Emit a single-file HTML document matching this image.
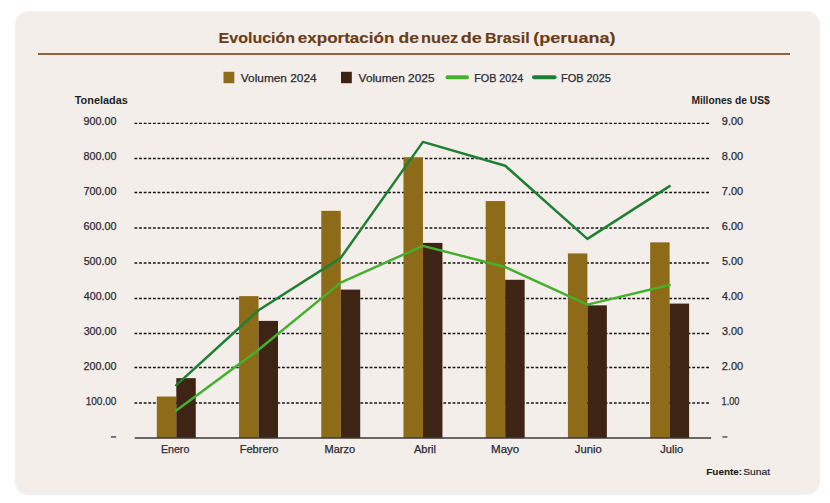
<!DOCTYPE html>
<html><head><meta charset="utf-8"><style>
html,body{margin:0;padding:0;background:#ffffff;width:830px;height:503px;overflow:hidden}
.card{position:absolute;left:14.7px;top:11.3px;width:804.9px;height:483.3px;background:#f3eee9;border-radius:14px}
.rule{position:absolute;left:38px;top:52.95px;width:752px;height:1.7px;background:#8f6242}
svg{position:absolute;left:0;top:0}
text{font-family:"Liberation Sans",sans-serif}
</style></head><body>
<div class="card"></div>
<div class="rule"></div>
<svg width="830" height="503" viewBox="0 0 830 503">
<line x1="134.5" y1="403.00" x2="709.6" y2="403.00" stroke="#141414" stroke-width="1.35" stroke-dasharray="2.8 1.81"/>
<line x1="134.5" y1="367.50" x2="709.6" y2="367.50" stroke="#141414" stroke-width="1.35" stroke-dasharray="2.8 1.81"/>
<line x1="134.5" y1="333.50" x2="709.6" y2="333.50" stroke="#141414" stroke-width="1.35" stroke-dasharray="2.8 1.81"/>
<line x1="134.5" y1="298.50" x2="709.6" y2="298.50" stroke="#141414" stroke-width="1.35" stroke-dasharray="2.8 1.81"/>
<line x1="134.5" y1="263.00" x2="709.6" y2="263.00" stroke="#141414" stroke-width="1.35" stroke-dasharray="2.8 1.81"/>
<line x1="134.5" y1="228.00" x2="709.6" y2="228.00" stroke="#141414" stroke-width="1.35" stroke-dasharray="2.8 1.81"/>
<line x1="134.5" y1="192.50" x2="709.6" y2="192.50" stroke="#141414" stroke-width="1.35" stroke-dasharray="2.8 1.81"/>
<line x1="134.5" y1="158.50" x2="709.6" y2="158.50" stroke="#141414" stroke-width="1.35" stroke-dasharray="2.8 1.81"/>
<line x1="134.5" y1="123.40" x2="709.6" y2="123.40" stroke="#141414" stroke-width="1.35" stroke-dasharray="2.8 1.81"/>
<rect x="156.83" y="396.52" width="19.47" height="41.48" fill="#8d6b18"/>
<rect x="176.30" y="378.15" width="19.47" height="59.85" fill="#3e2415"/>
<rect x="239.05" y="296.11" width="19.47" height="141.89" fill="#8d6b18"/>
<rect x="258.52" y="320.89" width="19.47" height="117.11" fill="#3e2415"/>
<rect x="321.27" y="210.85" width="19.47" height="227.15" fill="#8d6b18"/>
<rect x="340.74" y="289.60" width="19.47" height="148.40" fill="#3e2415"/>
<rect x="403.49" y="157.30" width="19.47" height="280.70" fill="#8d6b18"/>
<rect x="422.96" y="242.91" width="19.47" height="195.09" fill="#3e2415"/>
<rect x="485.71" y="201.05" width="19.47" height="236.95" fill="#8d6b18"/>
<rect x="505.18" y="279.80" width="19.47" height="158.20" fill="#3e2415"/>
<rect x="567.93" y="253.41" width="19.47" height="184.59" fill="#8d6b18"/>
<rect x="587.40" y="305.35" width="19.47" height="132.65" fill="#3e2415"/>
<rect x="650.15" y="242.35" width="19.47" height="195.65" fill="#8d6b18"/>
<rect x="669.62" y="303.60" width="19.47" height="134.40" fill="#3e2415"/>
<line x1="134.7" y1="438.0" x2="711.1" y2="438.0" stroke="#3a3a3a" stroke-width="1.6"/>
<polyline points="176.30,410.49 258.52,349.80 340.74,282.60 422.96,245.85 505.18,267.02 587.40,304.65 669.62,285.05" fill="none" stroke="#45b02c" stroke-width="2.5" stroke-linejoin="round" stroke-linecap="round"/>
<polyline points="176.30,385.15 258.52,310.25 340.74,257.89 422.96,141.90 505.18,165.70 587.40,238.85 669.62,186.10" fill="none" stroke="#1f7f33" stroke-width="2.5" stroke-linejoin="round" stroke-linecap="round"/>
<rect x="223.5" y="71.8" width="10.8" height="11.4" fill="#8d6b18"/>
<rect x="341" y="71.8" width="10.8" height="11.4" fill="#3e2415"/>
<line x1="447.5" y1="77.3" x2="467" y2="77.3" stroke="#45b02c" stroke-width="4" stroke-linecap="round"/>
<line x1="534" y1="77.3" x2="554.6" y2="77.3" stroke="#1f7f33" stroke-width="4" stroke-linecap="round"/>
<rect x="110.9" y="436.2" width="5.3" height="1.5" fill="#55555e"/>
<rect x="722.4" y="436.2" width="5.0" height="1.5" fill="#55555e"/>
<text x="218.54" y="43.00" font-size="15.2" font-weight="bold" fill="#6b3d17" stroke="#6b3d17" stroke-width="0.15" textLength="76.63" lengthAdjust="spacingAndGlyphs">Evolución</text>
<text x="297.84" y="43.00" font-size="15.2" font-weight="bold" fill="#6b3d17" stroke="#6b3d17" stroke-width="0.15" textLength="96.51" lengthAdjust="spacingAndGlyphs">exportación</text>
<text x="398.52" y="43.00" font-size="15.2" font-weight="bold" fill="#6b3d17" stroke="#6b3d17" stroke-width="0.15" textLength="20.43" lengthAdjust="spacingAndGlyphs">de</text>
<text x="421.06" y="43.00" font-size="15.2" font-weight="bold" fill="#6b3d17" stroke="#6b3d17" stroke-width="0.15" textLength="37.26" lengthAdjust="spacingAndGlyphs">nuez</text>
<text x="460.81" y="43.00" font-size="15.2" font-weight="bold" fill="#6b3d17" stroke="#6b3d17" stroke-width="0.15" textLength="21.07" lengthAdjust="spacingAndGlyphs">de</text>
<text x="484.94" y="43.00" font-size="15.2" font-weight="bold" fill="#6b3d17" stroke="#6b3d17" stroke-width="0.15" textLength="44.68" lengthAdjust="spacingAndGlyphs">Brasil</text>
<text x="533.26" y="43.00" font-size="15.2" font-weight="bold" fill="#6b3d17" stroke="#6b3d17" stroke-width="0.15" textLength="82.28" lengthAdjust="spacingAndGlyphs">(peruana)</text>
<text x="240.83" y="81.70" font-size="11.2" font-weight="normal" fill="#2c2c36" stroke="#2c2c36" stroke-width="0.25" textLength="75.75" lengthAdjust="spacingAndGlyphs">Volumen 2024</text>
<text x="358.63" y="81.70" font-size="11.2" font-weight="normal" fill="#2c2c36" stroke="#2c2c36" stroke-width="0.25" textLength="75.88" lengthAdjust="spacingAndGlyphs">Volumen 2025</text>
<text x="474.18" y="81.70" font-size="11.2" font-weight="normal" fill="#2c2c36" stroke="#2c2c36" stroke-width="0.25" textLength="49.16" lengthAdjust="spacingAndGlyphs">FOB 2024</text>
<text x="560.97" y="81.70" font-size="11.2" font-weight="normal" fill="#2c2c36" stroke="#2c2c36" stroke-width="0.25" textLength="49.90" lengthAdjust="spacingAndGlyphs">FOB 2025</text>
<text x="74.77" y="103.90" font-size="10.3" font-weight="bold" fill="#1e1e26" textLength="52.98" lengthAdjust="spacingAndGlyphs">Toneladas</text>
<text x="691.46" y="103.80" font-size="10.3" font-weight="bold" fill="#1e1e26" textLength="78.24" lengthAdjust="spacingAndGlyphs">Millones de US$</text>
<text x="85.70" y="405.40" font-size="10.8" font-weight="normal" fill="#2c2c36" stroke="#2c2c36" stroke-width="0.25" textLength="30.76" lengthAdjust="spacingAndGlyphs">100.00</text>
<text x="721.56" y="405.40" font-size="10.8" font-weight="normal" fill="#2c2c36" stroke="#2c2c36" stroke-width="0.25" textLength="17.86" lengthAdjust="spacingAndGlyphs">1.00</text>
<text x="83.53" y="370.40" font-size="10.8" font-weight="normal" fill="#2c2c36" stroke="#2c2c36" stroke-width="0.25" textLength="32.95" lengthAdjust="spacingAndGlyphs">200.00</text>
<text x="721.82" y="370.40" font-size="10.8" font-weight="normal" fill="#2c2c36" stroke="#2c2c36" stroke-width="0.25" textLength="21.35" lengthAdjust="spacingAndGlyphs">2.00</text>
<text x="83.65" y="335.40" font-size="10.8" font-weight="normal" fill="#2c2c36" stroke="#2c2c36" stroke-width="0.25" textLength="32.83" lengthAdjust="spacingAndGlyphs">300.00</text>
<text x="721.95" y="335.40" font-size="10.8" font-weight="normal" fill="#2c2c36" stroke="#2c2c36" stroke-width="0.25" textLength="21.22" lengthAdjust="spacingAndGlyphs">3.00</text>
<text x="83.78" y="300.40" font-size="10.8" font-weight="normal" fill="#2c2c36" stroke="#2c2c36" stroke-width="0.25" textLength="32.70" lengthAdjust="spacingAndGlyphs">400.00</text>
<text x="722.07" y="300.40" font-size="10.8" font-weight="normal" fill="#2c2c36" stroke="#2c2c36" stroke-width="0.25" textLength="21.09" lengthAdjust="spacingAndGlyphs">4.00</text>
<text x="83.65" y="265.40" font-size="10.8" font-weight="normal" fill="#2c2c36" stroke="#2c2c36" stroke-width="0.25" textLength="32.83" lengthAdjust="spacingAndGlyphs">500.00</text>
<text x="721.95" y="265.40" font-size="10.8" font-weight="normal" fill="#2c2c36" stroke="#2c2c36" stroke-width="0.25" textLength="21.22" lengthAdjust="spacingAndGlyphs">5.00</text>
<text x="83.53" y="230.40" font-size="10.8" font-weight="normal" fill="#2c2c36" stroke="#2c2c36" stroke-width="0.25" textLength="32.95" lengthAdjust="spacingAndGlyphs">600.00</text>
<text x="721.82" y="230.40" font-size="10.8" font-weight="normal" fill="#2c2c36" stroke="#2c2c36" stroke-width="0.25" textLength="21.35" lengthAdjust="spacingAndGlyphs">6.00</text>
<text x="83.53" y="195.40" font-size="10.8" font-weight="normal" fill="#2c2c36" stroke="#2c2c36" stroke-width="0.25" textLength="32.95" lengthAdjust="spacingAndGlyphs">700.00</text>
<text x="721.82" y="195.40" font-size="10.8" font-weight="normal" fill="#2c2c36" stroke="#2c2c36" stroke-width="0.25" textLength="21.35" lengthAdjust="spacingAndGlyphs">7.00</text>
<text x="83.53" y="160.40" font-size="10.8" font-weight="normal" fill="#2c2c36" stroke="#2c2c36" stroke-width="0.25" textLength="32.95" lengthAdjust="spacingAndGlyphs">800.00</text>
<text x="721.82" y="160.40" font-size="10.8" font-weight="normal" fill="#2c2c36" stroke="#2c2c36" stroke-width="0.25" textLength="21.35" lengthAdjust="spacingAndGlyphs">8.00</text>
<text x="83.53" y="125.40" font-size="10.8" font-weight="normal" fill="#2c2c36" stroke="#2c2c36" stroke-width="0.25" textLength="32.95" lengthAdjust="spacingAndGlyphs">900.00</text>
<text x="721.82" y="125.40" font-size="10.8" font-weight="normal" fill="#2c2c36" stroke="#2c2c36" stroke-width="0.25" textLength="21.35" lengthAdjust="spacingAndGlyphs">9.00</text>
<text x="160.92" y="452.80" font-size="10.2" font-weight="normal" fill="#2c2c36" stroke="#2c2c36" stroke-width="0.25" textLength="28.41" lengthAdjust="spacingAndGlyphs">Enero</text>
<text x="239.69" y="452.80" font-size="10.2" font-weight="normal" fill="#2c2c36" stroke="#2c2c36" stroke-width="0.25" textLength="38.74" lengthAdjust="spacingAndGlyphs">Febrero</text>
<text x="324.49" y="452.80" font-size="10.2" font-weight="normal" fill="#2c2c36" stroke="#2c2c36" stroke-width="0.25" textLength="30.65" lengthAdjust="spacingAndGlyphs">Marzo</text>
<text x="413.94" y="452.80" font-size="10.2" font-weight="normal" fill="#2c2c36" stroke="#2c2c36" stroke-width="0.25" textLength="22.02" lengthAdjust="spacingAndGlyphs">Abril</text>
<text x="491.05" y="452.80" font-size="10.2" font-weight="normal" fill="#2c2c36" stroke="#2c2c36" stroke-width="0.25" textLength="28.18" lengthAdjust="spacingAndGlyphs">Mayo</text>
<text x="574.80" y="452.80" font-size="10.2" font-weight="normal" fill="#2c2c36" stroke="#2c2c36" stroke-width="0.25" textLength="26.90" lengthAdjust="spacingAndGlyphs">Junio</text>
<text x="660.30" y="452.80" font-size="10.2" font-weight="normal" fill="#2c2c36" stroke="#2c2c36" stroke-width="0.25" textLength="22.86" lengthAdjust="spacingAndGlyphs">Julio</text>
<text x="706.25" y="474.90" font-size="9.6" font-weight="bold" fill="#1e1e26" stroke="#1e1e26" stroke-width="0.1" textLength="35.89" lengthAdjust="spacingAndGlyphs">Fuente:</text>
<text x="743.20" y="474.90" font-size="9.6" font-weight="normal" fill="#2a2a36" stroke="#2a2a36" stroke-width="0.2" textLength="26.85" lengthAdjust="spacingAndGlyphs">Sunat</text>
</svg>
</body></html>
